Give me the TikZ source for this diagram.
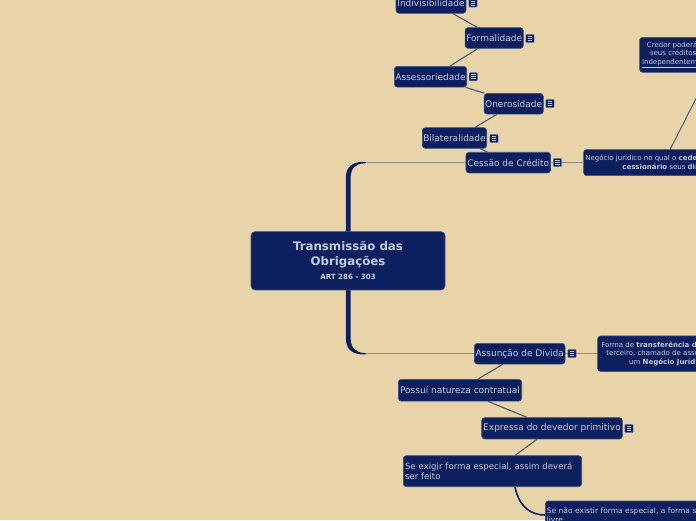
\documentclass[tikz,border=0pt]{standalone}
\usepackage{fontspec}
\setmainfont{DejaVu Sans}
\usetikzlibrary{calc}
\definecolor{bgtan}{HTML}{E9D4A9}
\definecolor{navy}{HTML}{0C1F5E}
\definecolor{navyedge}{HTML}{3B5283}
\definecolor{pale}{HTML}{BFCBE0}
\definecolor{chainc}{HTML}{4D586D}
\definecolor{greyc}{HTML}{8E8C88}
\definecolor{slatec}{HTML}{4F5E80}
\pgfdeclarelayer{bglayer}
\pgfdeclarelayer{links}
\pgfsetlayers{bglayer,links,main}
\tikzset{
 topic/.style={draw=navyedge, line width=0.6pt, fill=navy, rounded corners=3pt, text=pale, font=\fontsize{9}{11}\selectfont, inner sep=0pt, minimum height=20.7pt},
 notebox/.style={topic, font=\fontsize{7}{9}\selectfont, align=center},
 chain/.style={draw=chainc, line width=1.1pt},
 hlink/.style={draw=greyc, line width=0.9pt},
 trunkfill/.style={fill=navy, draw=none},
 noteicon/.pic={
   \draw[draw=pale!55!navy, line width=0.5pt, fill=navy, rounded corners=1pt] (-4.2,-4.2) rectangle (4.2,4.2);
   \foreach \yy in {-2,0,2} \draw[pale, line width=0.7pt] (-2.4,\yy) -- (2.4,\yy);
 }
}
\begin{document}
\begin{tikzpicture}[x=1pt, y=-1pt]
\useasboundingbox (0,0) rectangle (696,520);
\begin{pgfonlayer}{bglayer}
\fill[bgtan] (0,0) rectangle (696,520);
\end{pgfonlayer}
\clip (0,0) rectangle (696,520);

% nodes
\node[topic, minimum width=70pt] (indiv) at (431,3) {Indivisibilidade};
\node[topic, minimum width=58.3pt] (formal) at (494.2,38) {Formalidade};
\node[topic, minimum width=72.4pt] (assess) at (430.5,76.7) {Assessoriedade};
\node[topic, minimum width=59.3pt] (oner) at (513.7,103.8) {Onerosidade};
\node[topic, minimum width=64.4pt] (bilat) at (454.5,138) {Bilateralidade};
\node[topic, minimum width=84.7pt] (cessao) at (508.3,162.6) {Cessão de Crédito};
\node[topic, minimum width=194pt, minimum height=58.3pt, rounded corners=4pt, align=center, font=\fontsize{11.8}{15}\selectfont\bfseries] (root) at (348,260.8) {Transmissão das\\Obrigações\\[-1pt]{\fontsize{7.1}{9}\selectfont ART 286 - 303}};
\node[topic, minimum width=90.7pt] (assun) at (519.7,353.7) {Assunção de Dívida};
\node[topic, minimum width=123.4pt, minimum height=21.7pt] (possui) at (460,390.2) {Possuí natureza contratual};
\node[topic, minimum width=140.6pt, minimum height=21.3pt] (expr) at (552,428.3) {Expressa do devedor primitivo};
\node[topic, minimum width=178.4pt, minimum height=31pt, text width=175pt, align=left, font=\fontsize{8.6}{10}\selectfont] (exigir) at (492.5,471.2) {Se exigir forma especial, assim deverá ser feito};
\node[topic, anchor=north west, minimum height=28pt, text width=170pt, align=left, inner xsep=1.5pt, font=\fontsize{7.5}{9}\selectfont] (senao) at (545,500.7) {Se não existir forma especial, a forma será livre};
\node[notebox, anchor=west, minimum height=26pt, inner xsep=1.7pt] (negocio) at (583.3,162.6) {Negócio jurídico no qual o \textbf{cedente} transfere ao\\\textbf{cessionário} seus \textbf{direitos}};
\node[notebox, anchor=west, minimum height=35.5pt, inner xsep=3.7pt, font=\fontsize{7}{8.5}\selectfont] (forma) at (597.3,353.7) {Forma de \textbf{transferência de dívida} a\\terceiro, chamado de assuntor, por\\um \textbf{Negócio Jurídico}};
\node[notebox, anchor=west, minimum height=35pt, inner xsep=2.4pt, font=\fontsize{7}{8.5}\selectfont] (credor) at (639.3,54.8) {Credor poderá ceder\\seus créditos a um\\\underline{Independentemente do}};

% icons
\pic at (473,3) {noteicon};
\pic at (530,38.5) {noteicon};
\pic at (473.3,76.7) {noteicon};
\pic at (550,103.5) {noteicon};
\pic at (494,138.5) {noteicon};
\pic at (557.5,162.5) {noteicon};
\pic at (572,353.5) {noteicon};
\pic at (629,428.5) {noteicon};

% connectors
\coordinate (jt) at (366,162.6);
\coordinate (jb) at (366,353.7);
\coordinate (credend) at (712,67);
\begin{pgfonlayer}{links}
\fill[trunkfill] (345.8,233) -- (345.8,178) .. controls (345.8,167) and (352,161.8) .. (364,161.8) -- (368,162.6) -- (364,163.4) .. controls (356,163.6) and (350.6,168) .. (350.6,178) -- (350.6,233) -- cycle;
\fill[trunkfill] (345.8,289) -- (345.8,338) .. controls (345.8,349) and (352,354.5) .. (364,354.5) -- (368,353.7) -- (364,352.9) .. controls (356,352.7) and (350.6,348) .. (350.6,338) -- (350.6,289) -- cycle;
\draw[hlink] (jt) -- (cessao.west);
\draw[hlink] (jb) -- (assun.west);
\draw[hlink] (cessao.east) -- (negocio.west);
\draw[hlink] (assun.east) -- (forma.west);
\draw[draw=slatec, line width=1pt] (negocio.north) -- (credend);
\draw[chain] ([xshift=22pt]indiv.south) -- ([xshift=-17pt]formal.north);
\draw[chain] ([xshift=-16.5pt]formal.south) -- ([xshift=19.5pt]assess.north);
\draw[chain] ([xshift=-1.5pt]assess.south east) -- ([xshift=0.5pt]oner.north west);
\draw[chain] ([xshift=-17pt]oner.south) -- ([xshift=20.5pt]bilat.north);
\draw[chain] ([xshift=25.5pt]bilat.south) -- ([xshift=-21pt]cessao.north);
\draw[chain] ([xshift=-17pt]assun.south) -- ([xshift=18pt]possui.north);
\draw[chain] ([xshift=28pt]possui.south) -- ([xshift=-25pt]expr.north);
\draw[chain] ([xshift=-15pt]expr.south) -- ([xshift=22.5pt]exigir.north);
\draw[navy, line width=1.6pt] ([xshift=22.5pt]exigir.south) .. controls ([xshift=27pt,yshift=-22pt]exigir.south) and ($(senao.west)+(-12,0)$) .. (senao.west);
\end{pgfonlayer}
\end{tikzpicture}
\end{document}
